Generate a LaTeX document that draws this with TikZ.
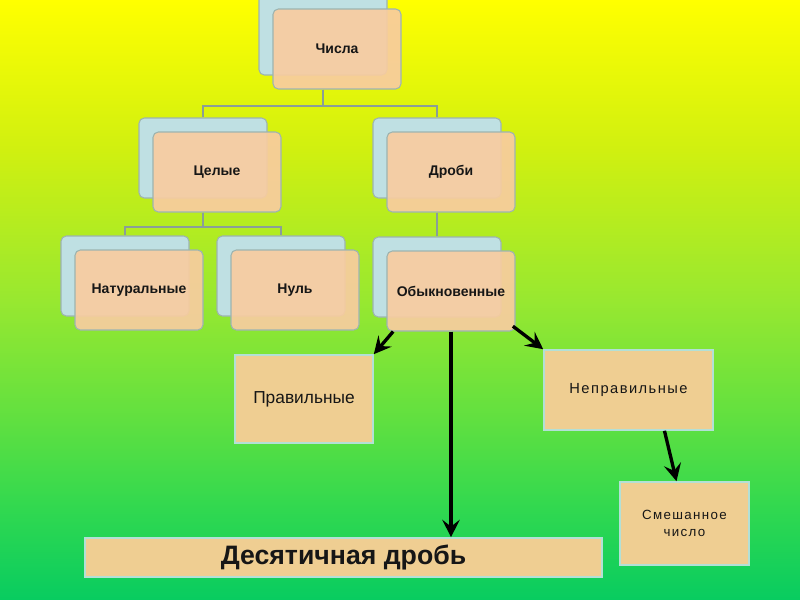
\documentclass[tikz,border=0pt]{standalone}
\usepackage{fontspec}
\setmainfont{Liberation Sans}
\newfontfamily\spacedfont[LetterSpace=10]{Liberation Sans}
\usetikzlibrary{arrows.meta}

\definecolor{cardback}{HTML}{BFE0E3}
\definecolor{cardfront}{HTML}{F8CCA0}
\definecolor{cardedge}{HTML}{9DB4B0}
\definecolor{boxfill}{HTML}{EFCE92}
\definecolor{boxedge}{HTML}{B3E0D6}
\definecolor{treeline}{HTML}{8A9E98}
\definecolor{textgrey}{HTML}{161616}
\definecolor{bgA}{HTML}{FFFF00}
\definecolor{bgB}{HTML}{D0F010}
\definecolor{bgC}{HTML}{98E830}
\definecolor{bgD}{HTML}{60E040}
\definecolor{bgE}{HTML}{30D850}
\definecolor{bgF}{HTML}{08CC60}
\pgfdeclareverticalshading{bggrad}{100bp}{color(0bp)=(bgF); color(25bp)=(bgF); color(32.5bp)=(bgE); color(40bp)=(bgD); color(50bp)=(bgC); color(62.5bp)=(bgB); color(75bp)=(bgA); color(100bp)=(bgA)}

\begin{document}
\begin{tikzpicture}[x=0.75pt, y=-0.75pt, font=\bfseries\fontsize{10.5}{12}\selectfont]
	% Node style
	\tikzstyle{card} = [rectangle, rounded corners=4pt, draw=cardedge, line width=0.8pt, fill=cardfront, fill opacity=0.92, text opacity=1, text=textgrey, minimum width=96pt, minimum height=60pt]
	\tikzstyle{back} = [card, fill=cardback, fill opacity=1]
	\tikzstyle{box} = [rectangle, draw=boxedge, line width=1.2pt, fill=boxfill, text=textgrey, font=\mdseries\fontsize{13}{15}\selectfont]
	\tikzstyle{tree} = [draw=treeline, line width=1.5pt]
	\tikzstyle{arr} = [draw=black, line width=2.5pt, -{Stealth[length=13pt, width=13pt, inset=5pt]}]
	
	% Background
	\shade[shading=bggrad] (0,0) rectangle (800,600);
	\useasboundingbox (0,0) rectangle (800,600);
	
	% Cards
	\node[back] (chisla b) at (323,35) {};
	\node[card] (chisla) at (337,49) {Числа};
	\node[back] (celye b) at (203,158) {};
	\node[card] (celye) at (217,172) {Целые};
	\node[back] (drobi b) at (437,158) {};
	\node[card] (drobi) at (451,172) {Дроби};
	\node[back] (natur b) at (125,276) {};
	\node[card] (natur) at (139,290) {Натуральные};
	\node[back] (nul b) at (281,276) {};
	\node[card] (nul) at (295,290) {Нуль};
	\node[back] (obyk b) at (437,277) {};
	\node[card] (obyk) at (451,291) {Обыкновенные};
	
	% Boxes
	\node[box, minimum width=103.5pt, minimum height=66pt] (prav) at (304,399) {Правильные};
	\node[box, minimum width=126.75pt, minimum height=60pt, font=\spacedfont\fontsize{11}{13}\selectfont] (neprav) at (628.5,390) {Неправильные};
	\node[box, minimum width=96.75pt, minimum height=62.25pt, align=center, font=\spacedfont\fontsize{10}{13}\selectfont] (smesh) at (684.5,523.5) {Смешанное\\число};
	\node[box, minimum width=387.75pt, minimum height=29.25pt, font=\bfseries\fontsize{20}{22}\selectfont] (desyat) at (343.5,557.5) {Десятичная дробь};
	
	% Tree lines
	\draw[tree] (chisla b.south |- chisla.south) -- ++(0,16) -| (celye b.north);
	\draw[tree] (chisla b.south |- chisla.south) -- ++(0,16) -| (drobi b.north);
	\draw[tree] (celye b.south |- celye.south) -- ++(0,14) -| (natur b.north);
	\draw[tree] (celye b.south |- celye.south) -- ++(0,14) -| (nul b.north);
	\draw[tree] (drobi b.south |- drobi.south) -- (obyk b.north);
	
	% Arrows
	\draw[arr] ([xshift=5pt]obyk.south west) -- (prav.north east);
	\draw[arr] (obyk.south) -- (obyk.south |- desyat.north);
	\draw[arr] ([xshift=-2pt, yshift=4pt]obyk.south east) -- (neprav.north west);
	\draw[arr] ([xshift=-37pt]neprav.south east) -- ([xshift=-6pt]smesh.north);
\end{tikzpicture}
\end{document}
